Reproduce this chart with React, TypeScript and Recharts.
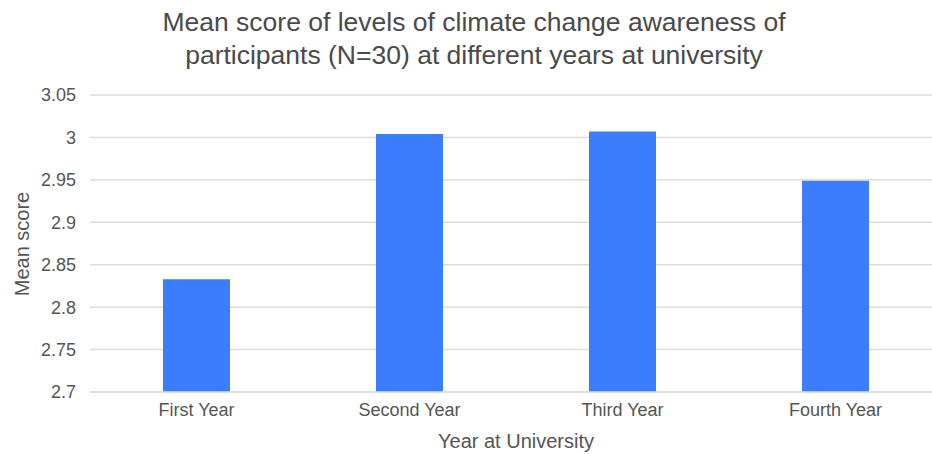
import React from "react";
import { BarChart, Bar, XAxis, YAxis, CartesianGrid, Label } from "recharts";

const years = ["First Year", "Second Year", "Third Year", "Fourth Year"];
const meanScores = [2.833, 3.004, 3.007, 2.949];
const scoreTicks = [2.7, 2.75, 2.8, 2.85, 2.9, 2.95, 3, 3.05];

const data = years.map((year, i) => ({ year, score: meanScores[i] }));

const FONT = "'Liberation Sans', Arial, Helvetica, sans-serif";
const TEXT = "#555555";
const GRID = "#dddddd";

export default function App() {
    return (
        <div
            style={{
                position: "fixed",
                left: 0,
                top: 0,
                width: 932,
                height: 454,
                overflow: "hidden",
                background: "#ffffff",
                fontFamily: FONT,
            }}
        >
            <div
                style={{
                    position: "absolute",
                    left: 0,
                    top: 6,
                    width: 948,
                    textAlign: "center",
                    fontSize: 26.5,
                    lineHeight: "33px",
                    color: "#4a4a4a",
                }}
            >
                Mean score of levels of climate change awareness of
                <br />
                participants (N=30) at different years at university
            </div>
            <BarChart
                width={950}
                height={454}
                data={data}
                margin={{ top: 95, right: 8, bottom: 0, left: 0 }}
                style={{ position: "absolute", left: 0, top: 0 }}
            >
                <CartesianGrid vertical={false} stroke={GRID} strokeWidth={1.5} />
                <XAxis
                    dataKey="year"
                    height={62}
                    tickLine={false}
                    tickMargin={5}
                    axisLine={{ stroke: GRID, strokeWidth: 1.5 }}
                    tick={{ fill: TEXT, fontSize: 18, fontFamily: FONT }}
                    interval={0}
                >
                    <Label
                        value="Year at University"
                        position="insideBottom"
                        offset={6}
                        style={{ fill: TEXT, fontSize: 20, fontFamily: FONT }}
                    />
                </XAxis>
                <YAxis
                    width={90}
                    domain={[2.7, 3.05]}
                    ticks={scoreTicks}
                    interval={0}
                    tickLine={false}
                    axisLine={false}
                    tickSize={0}
                    tickMargin={14}
                    tick={{ fill: TEXT, fontSize: 18, fontFamily: FONT }}
                >
                    <Label
                        value="Mean score"
                        content={() => (
                            <text
                                x={22}
                                y={244}
                                transform="rotate(-90 22 244)"
                                textAnchor="middle"
                                dominantBaseline="central"
                                fill={TEXT}
                                fontSize={20}
                                fontFamily={FONT}
                            >
                                Mean score
                            </text>
                        )}
                    />
                </YAxis>
                <Bar dataKey="score" fill="#3c7dfd" barSize={67} isAnimationActive={false} />
            </BarChart>
        </div>
    );
}
